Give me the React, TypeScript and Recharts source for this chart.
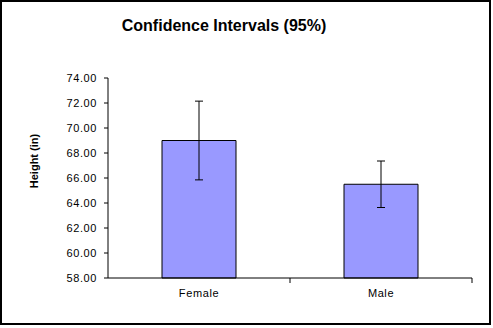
import React from 'react';
import { Bar, BarChart, ErrorBar, XAxis, YAxis } from 'recharts';

const groups = ['Female', 'Male'];
const meanHeights = [69.0, 65.5];
const ci95 = [3.15, 1.86];
const yTicks = [58, 60, 62, 64, 66, 68, 70, 72, 74];

const data = groups.map((name, i) => ({ name, height: meanHeights[i], ci: ci95[i] }));

const FONT = "Arial, 'Liberation Sans', sans-serif";

const GroupTick = (props: any) => {
  const { x, y, payload } = props;
  const half = payload && payload.offset ? payload.offset : 91;
  return (
    <g>
      <line x1={x + half} y1={y - 5} x2={x + half} y2={y} stroke="#000" />
      <text
        x={x}
        y={y + 14}
        textAnchor="middle"
        fontFamily={FONT}
        fontSize={11}
        letterSpacing={0.6}
        fill="#000"
      >
        {payload.value}
      </text>
    </g>
  );
};

const YLabel = () => (
  <text
    x={38}
    y={161}
    transform="rotate(-90 38 161)"
    textAnchor="middle"
    fontFamily={FONT}
    fontSize={11}
    fontWeight="bold"
    fill="#000"
  >
    Height (in)
  </text>
);

export default function App() {
  return (
    <div style={{ position: 'absolute', left: 0, top: 0, width: 493, height: 328, background: '#fff' }}>
      <div
        style={{
          position: 'absolute',
          left: 0,
          top: 17,
          width: 448,
          textAlign: 'center',
          fontFamily: FONT,
          fontSize: 16,
          fontWeight: 'bold',
          lineHeight: '18px',
        }}
      >
        Confidence Intervals (95%)
      </div>
      <BarChart
        width={493}
        height={328}
        data={data}
        margin={{ top: 78, right: 21, bottom: 20, left: 0 }}
      >
        <XAxis
          dataKey="name"
          height={30}
          axisLine={{ stroke: '#000' }}
          tickLine={false}
          tickSize={5}
          tickMargin={0}
          tick={<GroupTick />}
          interval={0}
        />
        <YAxis
          width={108}
          domain={[58, 74]}
          ticks={yTicks}
          interval={0}
          tickFormatter={(v: number) => v.toFixed(2)}
          axisLine={{ stroke: '#000' }}
          tickLine={{ stroke: '#000' }}
          tickSize={4}
          tickMargin={7}
          tick={{ fontFamily: FONT, fontSize: 11, fill: '#000', letterSpacing: 0.6 }}
          label={{ content: () => <YLabel /> }}
        />
        <Bar dataKey="height" fill="#9999FF" stroke="#000" strokeWidth={1} barSize={74} isAnimationActive={false}>
          <ErrorBar dataKey="ci" width={4} stroke="#000" strokeWidth={1} direction="y" />
        </Bar>
      </BarChart>
      <div
        style={{
          position: 'absolute',
          left: 0,
          top: 0,
          width: 491,
          height: 325,
          border: '2px solid #000',
          boxSizing: 'border-box',
          pointerEvents: 'none',
        }}
      />
    </div>
  );
}
